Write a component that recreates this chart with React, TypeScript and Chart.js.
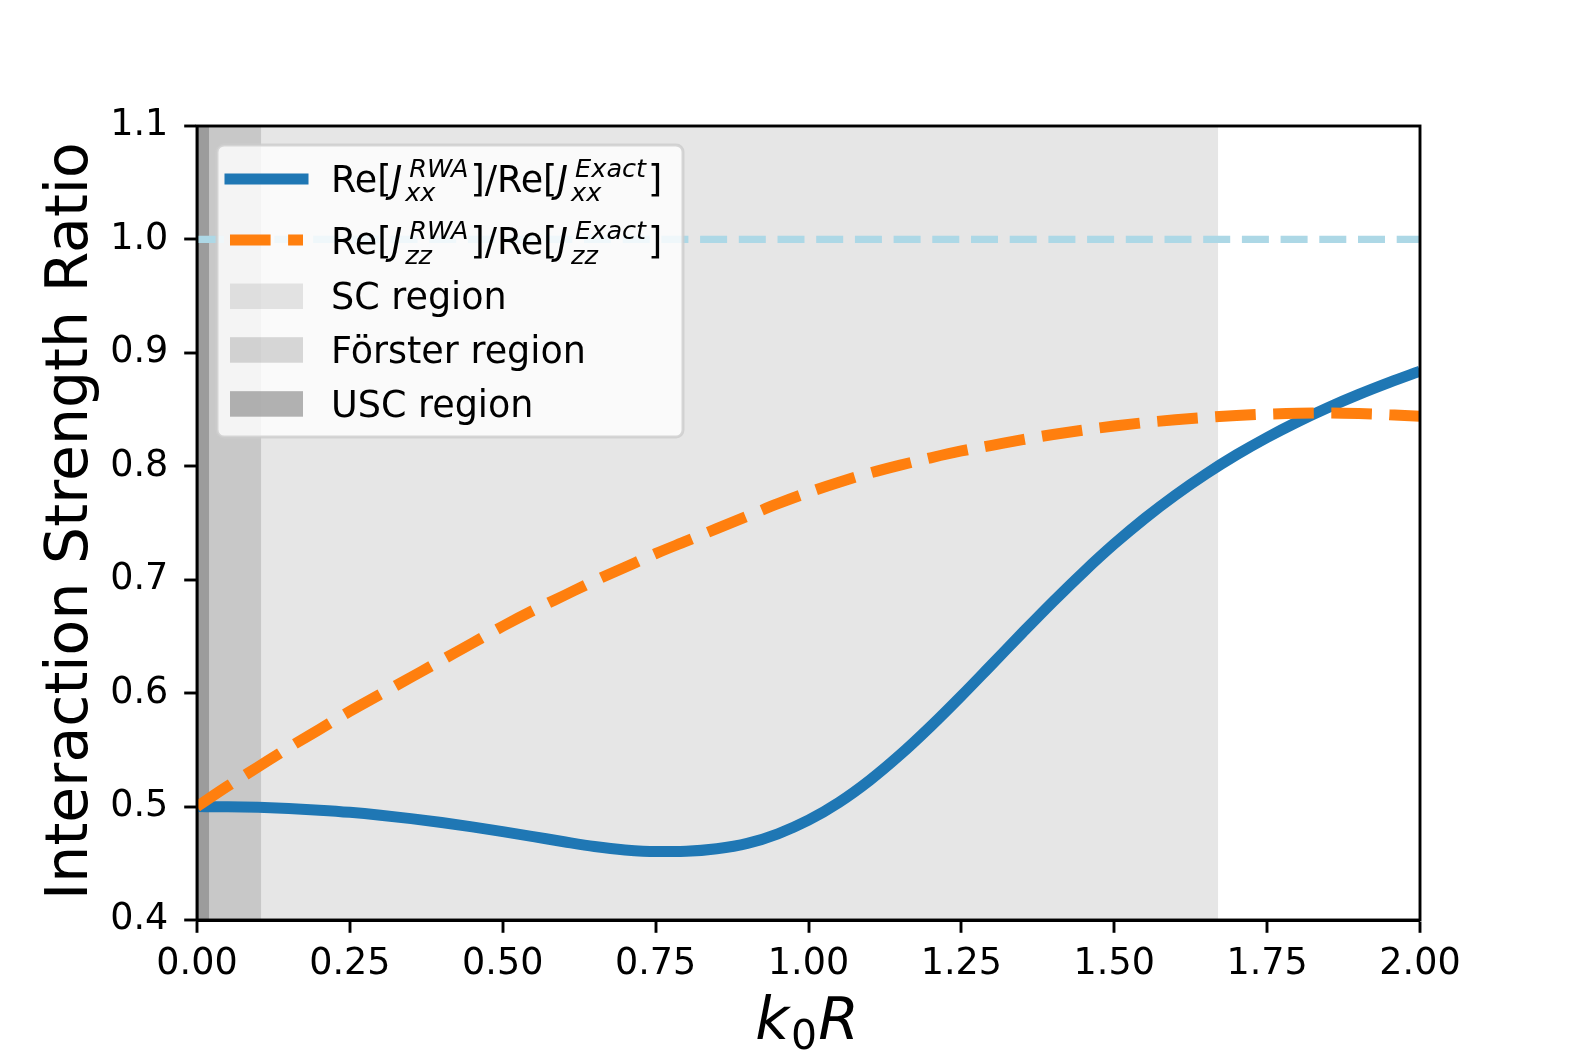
import { useEffect, useRef } from 'react';
import { Chart, registerables } from 'chart.js';

Chart.register(...registerables);

// k0 R sample positions (x axis)
const kR = [
  0, 0.05, 0.1, 0.15, 0.2, 0.25, 0.3, 0.35, 0.4, 0.45, 0.5, 0.55, 0.6, 0.65, 0.7, 0.75, 0.8, 0.85, 0.9, 0.95,
  1.0, 1.05, 1.1, 1.15, 1.2, 1.25, 1.3, 1.35, 1.4, 1.45, 1.5, 1.55, 1.6, 1.65, 1.7, 1.75, 1.8, 1.85, 1.9, 1.95, 2.0,
];

// Re[J_xx^RWA] / Re[J_xx^Exact]
const ratioXX = [
  0.5, 0.4998, 0.4993, 0.4983, 0.4968, 0.4949, 0.4924, 0.4894, 0.4859, 0.4821, 0.4779, 0.4735, 0.469,
  0.4648, 0.4618, 0.4603, 0.4606, 0.4628, 0.4675, 0.476, 0.488, 0.5037, 0.5231, 0.5457, 0.5708, 0.5976,
  0.6254, 0.6533, 0.6807, 0.7069, 0.7315, 0.7541, 0.7746, 0.7932, 0.8101, 0.8254, 0.8393, 0.8519, 0.8634,
  0.874, 0.8839,
];

// Re[J_zz^RWA] / Re[J_zz^Exact]
const ratioZZ = [
  0.5, 0.518, 0.535, 0.552, 0.568, 0.584, 0.599, 0.614, 0.629, 0.644, 0.659, 0.673, 0.686, 0.699, 0.711,
  0.723, 0.734, 0.745, 0.756, 0.767, 0.777, 0.786, 0.794, 0.801, 0.8075, 0.8135, 0.8185, 0.8235, 0.828,
  0.832, 0.8355, 0.8385, 0.841, 0.843, 0.8448, 0.846, 0.8468, 0.847, 0.8465, 0.8455, 0.844,
];

// region limits along k0 R
const uscEnd = 0.02;
const forsterEnd = 0.105;
const scEnd = 1.67;
const exactRatio = 1.0;

const xMin = 0;
const xMax = 2;
const yMin = 0.4;
const yMax = 1.1;

const FONT = '"DejaVu Sans"';
const TICK_SIZE = 36.5;
const LABEL_SIZE = 58.5;
const LW = 11;

const SC_COLOR = 'rgba(128,128,128,0.2)';
const FORSTER_COLOR = 'rgba(128,128,128,0.3)';
const USC_COLOR = 'rgba(128,128,128,0.6)';
const BLUE = '#1f77b4';
const ORANGE = '#ff7f0e';

function spanDataset(end: number, color: string, order: number) {
  return {
    data: [
      { x: xMin, y: yMax },
      { x: end, y: yMax },
    ],
    borderColor: 'transparent',
    borderWidth: 0,
    backgroundColor: color,
    fill: 'start',
    pointRadius: 0,
    clip: 0,
    order,
  };
}

// ratio label with mathtext-like sub/superscripts
function drawRatio(ctx: CanvasRenderingContext2D, x: number, base: number, sub: string) {
  const reg = `${TICK_SIZE}px ${FONT}`;
  const ita = `italic ${TICK_SIZE}px ${FONT}`;
  const small = `italic ${TICK_SIZE * 0.7}px ${FONT}`;
  let cx = x;
  const put = (t: string, font: string, px: number, dy: number) => {
    ctx.font = font;
    ctx.fillText(t, px, base + dy);
    return ctx.measureText(t).width;
  };
  const jPart = (sup: string) => {
    cx += put('J', ita, cx, 0);
    const wSup = put(sup, small, cx + 7, -15);
    const wSub = put(sub, small, cx + 3, 9.5);
    cx += Math.max(wSup + 7, wSub + 3) + 2;
  };
  cx += put('Re[', reg, cx, 0);
  jPart('RWA');
  cx += put(']/Re[', reg, cx, 0);
  jPart('Exact');
  put(']', reg, cx, 0);
}

const decorations = {
  id: 'decorations',
  afterDatasetsDraw(chart: Chart) {
    const { ctx, chartArea } = chart;
    ctx.save();
    ctx.strokeStyle = '#000';
    ctx.lineWidth = 2.9;
    ctx.strokeRect(chartArea.left, chartArea.top, chartArea.right - chartArea.left, chartArea.bottom - chartArea.top);
    ctx.restore();
  },
  afterDraw(chart: Chart) {
    const { ctx } = chart;
    ctx.save();
    ctx.fillStyle = '#000';
    ctx.textBaseline = 'alphabetic';

    // y axis label
    ctx.save();
    ctx.translate(87, 521);
    ctx.rotate(-Math.PI / 2);
    ctx.textAlign = 'center';
    ctx.font = `${LABEL_SIZE}px ${FONT}`;
    ctx.fillText('Interaction Strength Ratio', 0, 0);
    ctx.restore();

    // x axis label: k_0 R
    const big = LABEL_SIZE;
    ctx.textAlign = 'left';
    ctx.font = `italic ${big}px ${FONT}`;
    const wk = ctx.measureText('k').width;
    const wR = ctx.measureText('R').width;
    ctx.font = `${big * 0.7}px ${FONT}`;
    const w0 = ctx.measureText('0').width;
    const total = wk + w0 + wR + 3;
    let lx = 807 - total / 2;
    const lb = 1039;
    ctx.font = `italic ${big}px ${FONT}`;
    ctx.fillText('k', lx, lb);
    lx += wk + 2;
    ctx.font = `${big * 0.7}px ${FONT}`;
    ctx.fillText('0', lx, lb + 10);
    lx += w0 + 1;
    ctx.font = `italic ${big}px ${FONT}`;
    ctx.fillText('R', lx, lb);

    // legend
    const bx = 217, by = 145, bw = 466, bh = 292;
    ctx.beginPath();
    ctx.roundRect(bx, by, bw, bh, 7);
    ctx.fillStyle = 'rgba(255,255,255,0.8)';
    ctx.fill();
    ctx.strokeStyle = 'rgba(204,204,204,0.8)';
    ctx.lineWidth = 3;
    ctx.stroke();

    ctx.strokeStyle = BLUE;
    ctx.lineWidth = LW;
    ctx.lineCap = 'square';
    ctx.beginPath();
    ctx.moveTo(230, 179);
    ctx.lineTo(303, 179);
    ctx.stroke();

    ctx.strokeStyle = ORANGE;
    ctx.lineCap = 'butt';
    ctx.setLineDash([40.6, 17.5]);
    ctx.beginPath();
    ctx.moveTo(230, 240);
    ctx.lineTo(303, 240);
    ctx.stroke();
    ctx.setLineDash([]);

    const swatches: [string, string, number][] = [
      [SC_COLOR, 'SC region', 309],
      [FORSTER_COLOR, 'Förster region', 362.7],
      [USC_COLOR, 'USC region', 416.7],
    ];
    swatches.forEach(([color, text, base]) => {
      ctx.fillStyle = color;
      ctx.fillRect(230, base - 25.5, 73, 25.5);
      ctx.fillStyle = '#000';
      ctx.font = `${TICK_SIZE}px ${FONT}`;
      ctx.fillText(text, 331, base);
    });

    ctx.fillStyle = '#000';
    drawRatio(ctx, 331, 191.7, 'xx');
    drawRatio(ctx, 331, 254, 'zz');
    ctx.restore();
  },
};

export default function App() {
  const chartRef = useRef<HTMLCanvasElement>(null);
  const chartInstance = useRef<Chart | null>(null);

  useEffect(() => {
    document.body.style.margin = '0';
    if (!chartRef.current) return;
    if (chartInstance.current) {
      chartInstance.current.destroy();
    }
    const ctx = chartRef.current.getContext('2d');
    if (!ctx) return;

    const toPoints = (ys: number[]) => kR.map((k, i) => ({ x: k, y: ys[i] }));

    const axisGrid = {
      drawOnChartArea: false,
      drawTicks: true,
      tickLength: 12.8,
      tickWidth: 2.9,
      tickColor: '#000',
      lineWidth: 0,
    };

    chartInstance.current = new Chart(ctx, {
      type: 'line',
      data: {
        datasets: [
          {
            label: 'Re[J_zz^RWA]/Re[J_zz^Exact]',
            data: toPoints(ratioZZ),
            borderColor: ORANGE,
            borderWidth: LW,
            borderDash: [40.6, 17.5],
            borderCapStyle: 'butt',
            cubicInterpolationMode: 'monotone',
            pointRadius: 0,
            fill: false,
            clip: 0,
            order: 0,
          },
          {
            label: 'Re[J_xx^RWA]/Re[J_xx^Exact]',
            data: toPoints(ratioXX),
            borderColor: BLUE,
            borderWidth: LW,
            borderJoinStyle: 'round',
            cubicInterpolationMode: 'monotone',
            pointRadius: 0,
            fill: false,
            clip: 0,
            order: 1,
          },
          {
            data: [
              { x: xMin, y: exactRatio },
              { x: xMax, y: exactRatio },
            ],
            borderColor: '#add8e6',
            borderWidth: 7.3,
            borderDash: [27, 11.7],
            borderCapStyle: 'butt',
            pointRadius: 0,
            fill: false,
            clip: 0,
            order: 2,
          },
          spanDataset(uscEnd, USC_COLOR, 3),
          spanDataset(forsterEnd, FORSTER_COLOR, 4),
          spanDataset(scEnd, SC_COLOR, 5),
        ] as any,
      },
      options: {
        responsive: false,
        animation: false,
        devicePixelRatio: 1,
        events: [],
        layout: {
          padding: { top: 126, right: 158, left: 0, bottom: 0 },
        },
        plugins: {
          legend: { display: false },
          tooltip: { enabled: false },
        },
        scales: {
          x: {
            type: 'linear',
            min: xMin,
            max: xMax,
            afterFit: (scale: any) => {
              scale.height = 132;
            },
            border: { display: true, color: '#000', width: 2.9 },
            grid: axisGrid,
            ticks: {
              stepSize: 0.25,
              autoSkip: false,
              maxRotation: 0,
              padding: 10,
              color: '#000',
              font: { family: 'DejaVu Sans', size: TICK_SIZE },
              callback: (v: any) => Number(v).toFixed(2),
            },
          },
          y: {
            type: 'linear',
            min: yMin,
            max: yMax,
            afterFit: (scale: any) => {
              scale.width = 197;
            },
            border: { display: true, color: '#000', width: 2.9 },
            grid: axisGrid,
            ticks: {
              stepSize: 0.1,
              autoSkip: false,
              padding: 16,
              color: '#000',
              font: { family: 'DejaVu Sans', size: TICK_SIZE },
              callback: (v: any) => Number(v).toFixed(1),
            },
          },
        },
      },
      plugins: [decorations],
    });

    return () => {
      if (chartInstance.current) {
        chartInstance.current.destroy();
        chartInstance.current = null;
      }
    };
  }, []);

  return <canvas ref={chartRef} width={1578} height={1052} style={{ display: 'block', width: 1578, height: 1052 }} />;
}
